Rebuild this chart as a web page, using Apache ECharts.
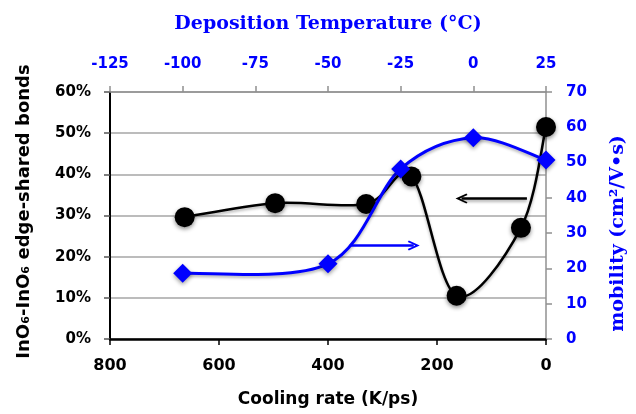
<!DOCTYPE html>
<html><head><meta charset="utf-8">
<script src="https://cdn.jsdelivr.net/npm/echarts@6/dist/echarts.min.js"></script>
<style>html,body{margin:0;padding:0;background:#fff}#c{width:636px;height:414px}</style>
</head><body><div id="c"></div><script>
// Black series: cooling rate (K/ps) vs fraction of InO6-InO6 edge-shared bonds
const coolingRate = [663, 497, 330, 247, 164, 46, 0];
const edgeShared = [0.296, 0.330, 0.328, 0.395, 0.105, 0.270, 0.515];
// Blue series: deposition temperature (°C) vs mobility (cm²/V·s)
const depTemp = [-100, -50, -25, 0, 25];
const mobility = [18.6, 21.3, 48.2, 57.0, 50.7];
// Annotation arrows (start, end) in data units
const blackArrowFrom = [35, 0.341], blackArrowTo = [155, 0.341];
const blueArrowFrom = [-42.5, 26.5], blueArrowTo = [-20.5, 26.5];

const BLUE = '#0000ff';
const SANS = 'DejaVu Sans';
const SERIF = 'DejaVu Serif';
const chev = 'path://M0,10 L5,0 L10,10 L8.6,11 L5,4 L1.4,11 Z';

const blackData = coolingRate.map((x, i) => [x, edgeShared[i]]);
const blueData = depTemp.map((x, i) => [x, mobility[i]]);

// Excel-like smooth curve (Catmull-Rom -> cubic Bezier) through points mapped by the axes
function smoothCurve(data, color, width) {
  return function (params, api) {
    if (params.dataIndex !== 0) return null;
    const p = data.map(d => api.coord(d));
    const n = p.length;
    let d = 'M' + p[0][0] + ',' + p[0][1];
    for (let i = 0; i < n - 1; i++) {
      const p0 = p[i - 1] || p[i], p1 = p[i], p2 = p[i + 1], p3 = p[i + 2] || p[i + 1];
      const c1 = [p1[0] + (p2[0] - p0[0]) / 6, p1[1] + (p2[1] - p0[1]) / 6];
      const c2 = [p2[0] - (p3[0] - p1[0]) / 6, p2[1] - (p3[1] - p1[1]) / 6];
      d += ' C' + c1[0] + ',' + c1[1] + ' ' + c2[0] + ',' + c2[1] + ' ' + p2[0] + ',' + p2[1];
    }
    return {
      type: 'path', shape: {pathData: d},
      style: {fill: 'none', stroke: color, lineWidth: width,
        shadowBlur: 3, shadowColor: 'rgba(0,0,0,0.3)', shadowOffsetY: 2}
    };
  };
}

const chart = echarts.init(document.getElementById('c'), null, {renderer: 'canvas'});
chart.setOption({
  animation: false,
  backgroundColor: '#fff',
  grid: {left: 110, right: 88, top: 92, bottom: 75, containLabel: false},
  xAxis: [
    {
      type: 'value', position: 'bottom', min: 0, max: 800, interval: 200, inverse: true,
      name: 'Cooling rate (K/ps)', nameLocation: 'middle', nameGap: 52,
      nameTextStyle: {fontFamily: SANS, fontWeight: 'bold', fontSize: 17, color: '#000'},
      axisLine: {show: true, onZero: false, lineStyle: {color: '#000', width: 2.5}},
      axisTick: {show: true, length: 6, lineStyle: {color: '#000', width: 1.5}},
      axisLabel: {margin: 19, fontFamily: SANS, fontWeight: 'bold', fontSize: 16, color: '#000'},
      splitLine: {show: false}
    },
    {
      type: 'value', position: 'top', min: -125, max: 25, interval: 25,
      name: 'Deposition Temperature (°C)', nameLocation: 'middle', nameGap: 58,
      nameTextStyle: {fontFamily: SERIF, fontWeight: 'bold', fontSize: 19, color: BLUE},
      axisLine: {show: true, onZero: false, lineStyle: {color: '#909090', width: 1.5}},
      axisTick: {show: true, length: 6, lineStyle: {color: '#909090', width: 1.5}},
      axisLabel: {margin: 20, fontFamily: SANS, fontWeight: 'bold', fontSize: 15, color: BLUE},
      splitLine: {show: false}
    }
  ],
  yAxis: [
    {
      type: 'value', position: 'left', min: 0, max: 0.6, interval: 0.1,
      name: 'InO₆-InO₆ edge-shared bonds', nameLocation: 'middle', nameGap: 77, nameRotate: 90,
      nameTextStyle: {fontFamily: SANS, fontWeight: 'bold', fontSize: 18, color: '#000',
        padding: [0, 0, 0, 8]},
      axisLine: {show: true, onZero: false, lineStyle: {color: '#000', width: 2}},
      axisTick: {show: true, length: 6, lineStyle: {color: '#555', width: 1.5}},
      axisLabel: {margin: 19, fontFamily: SANS, fontWeight: 'bold', fontSize: 15, color: '#000',
        formatter: v => Math.round(v * 100) + '%'},
      splitLine: {show: true, lineStyle: {color: '#a6a6a6', width: 1.5}}
    },
    {
      type: 'value', position: 'right', min: 0, max: 70, interval: 10,
      name: 'mobility (cm²/V•s)', nameLocation: 'middle', nameGap: 63, nameRotate: 90,
      nameTextStyle: {fontFamily: SERIF, fontWeight: 'bold', fontSize: 19, color: BLUE,
        padding: [0, 36, 0, 0]},
      axisLine: {show: true, onZero: false, lineStyle: {color: '#909090', width: 1.5}},
      axisTick: {show: true, length: 6, lineStyle: {color: '#909090', width: 1.5}},
      axisLabel: {margin: 20, fontFamily: SANS, fontWeight: 'bold', fontSize: 15, color: BLUE},
      splitLine: {show: false}
    }
  ],
  series: [
    {
      type: 'custom', xAxisIndex: 0, yAxisIndex: 0, data: blackData, silent: true,
      encode: {x: 0, y: 1}, renderItem: smoothCurve(blackData, '#000', 2.5), z: 2
    },
    {
      type: 'scatter', xAxisIndex: 0, yAxisIndex: 0, data: blackData,
      symbol: 'circle', symbolSize: 20,
      itemStyle: {color: '#000', opacity: 1, shadowBlur: 4, shadowColor: 'rgba(0,0,0,0.45)', shadowOffsetY: 2},
      markLine: {
        silent: true, symbol: ['none', chev], symbolSize: [10, 12], label: {show: false},
        lineStyle: {color: '#000', width: 2.5, type: 'solid', opacity: 1, shadowBlur: 3, shadowColor: 'rgba(0,0,0,0.35)', shadowOffsetY: 2},
        data: [[{coord: blackArrowFrom}, {coord: blackArrowTo}]]
      },
      z: 3
    },
    {
      type: 'custom', xAxisIndex: 1, yAxisIndex: 1, data: blueData, silent: true,
      encode: {x: 0, y: 1}, renderItem: smoothCurve(blueData, BLUE, 3), z: 4
    },
    {
      type: 'scatter', xAxisIndex: 1, yAxisIndex: 1, data: blueData,
      symbol: 'diamond', symbolSize: 19,
      itemStyle: {color: BLUE, opacity: 1, shadowBlur: 4, shadowColor: 'rgba(0,0,0,0.4)', shadowOffsetY: 2},
      markLine: {
        silent: true, symbol: ['none', chev], symbolSize: [10, 12], label: {show: false},
        lineStyle: {color: BLUE, width: 2.5, type: 'solid', opacity: 1},
        data: [[{coord: blueArrowFrom}, {coord: blueArrowTo}]]
      },
      z: 5
    }
  ]
});
</script></body></html>
